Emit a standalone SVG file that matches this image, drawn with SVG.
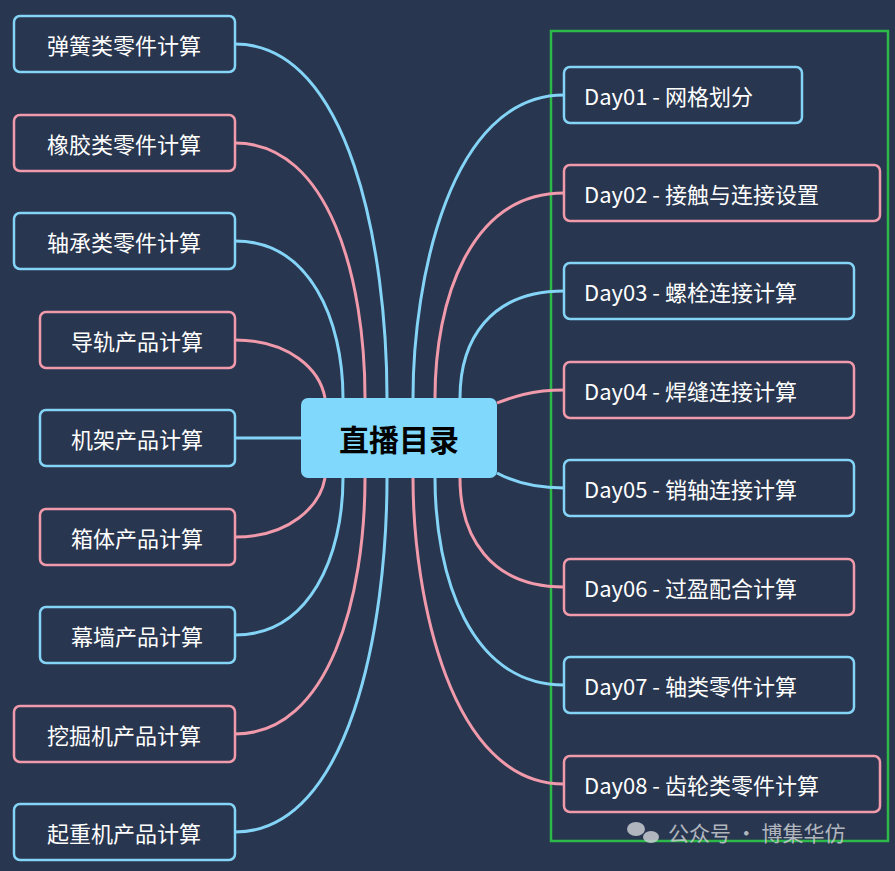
<svg xmlns="http://www.w3.org/2000/svg" width="895" height="871" viewBox="0 0 895 871">
<style>
.b{fill:#29364f;stroke:#84d4f7;stroke-width:2.5}
.p{fill:#29364f;stroke:#f09aab;stroke-width:2.5}
.t{fill:#ffffff;font-family:"Noto Sans CJK SC","Noto Sans",sans-serif;font-size:22px;dominant-baseline:central}
.cb{fill:none;stroke:#84d4f7;stroke-width:3}
.cp{fill:none;stroke:#f09aab;stroke-width:3}
</style>
<rect width="895" height="871" fill="#29364f"/>
<rect x="551" y="31" width="337" height="810" fill="none" stroke="#2db84a" stroke-width="2.5"/>
<g id="connectors">
<path class="cb" d="M235,44 C350,44 387,250 387,398"/>
<path class="cp" d="M235,143 C330,143 365,280 365,398"/>
<path class="cb" d="M235,241 C310,241 343,320 343,398"/>
<path class="cp" d="M235,340 C290,340 320,370 325,398"/>
<path class="cb" d="M235,438 L301,438"/>
<path class="cp" d="M235,537 C290,537 320,506 325,478"/>
<path class="cb" d="M235,635 C310,635 343,556 343,478"/>
<path class="cp" d="M235,734 C330,734 365,596 365,478"/>
<path class="cb" d="M235,832 C350,832 387,626 387,478"/>
<path class="cb" d="M564,95 C450,95 413,280 413,398"/>
<path class="cp" d="M564,193 C470,193 435,300 435,398"/>
<path class="cb" d="M564,291 C490,291 460,340 460,398"/>
<path class="cp" d="M564,390 C530,390 510,398 497,403"/>
<path class="cb" d="M564,488 C530,488 510,480 497,473"/>
<path class="cp" d="M564,587 C490,587 460,536 460,478"/>
<path class="cb" d="M564,685 C470,685 435,576 435,478"/>
<path class="cp" d="M564,784 C450,784 413,596 413,478"/>
</g>
<g id="center"><rect x="301" y="398" width="196" height="80" rx="7" fill="#80d9fc"/>
<text x="399" y="438" text-anchor="middle" style="font-family:'Noto Sans CJK SC',sans-serif;font-size:30px;font-weight:bold;fill:#000;dominant-baseline:central">直播目录</text></g>
<g id="l1"><rect class="b" x="14" y="16" width="221" height="56" rx="6"/><text class="t" x="124" y="44" text-anchor="middle">弹簧类零件计算</text></g>
<g id="l2"><rect class="p" x="14" y="115" width="221" height="56" rx="6"/><text class="t" x="124" y="143" text-anchor="middle">橡胶类零件计算</text></g>
<g id="l3"><rect class="b" x="14" y="213" width="221" height="56" rx="6"/><text class="t" x="124" y="241" text-anchor="middle">轴承类零件计算</text></g>
<g id="l4"><rect class="p" x="40" y="312" width="195" height="56" rx="6"/><text class="t" x="137" y="340" text-anchor="middle">导轨产品计算</text></g>
<g id="l5"><rect class="b" x="40" y="410" width="195" height="56" rx="6"/><text class="t" x="137" y="438" text-anchor="middle">机架产品计算</text></g>
<g id="l6"><rect class="p" x="40" y="509" width="195" height="56" rx="6"/><text class="t" x="137" y="537" text-anchor="middle">箱体产品计算</text></g>
<g id="l7"><rect class="b" x="40" y="607" width="195" height="56" rx="6"/><text class="t" x="137" y="635" text-anchor="middle">幕墙产品计算</text></g>
<g id="l8"><rect class="p" x="14" y="706" width="221" height="56" rx="6"/><text class="t" x="124" y="734" text-anchor="middle">挖掘机产品计算</text></g>
<g id="l9"><rect class="b" x="14" y="804" width="221" height="56" rx="6"/><text class="t" x="124" y="832" text-anchor="middle">起重机产品计算</text></g>
<g id="r1"><rect class="b" x="564" y="67" width="238" height="56" rx="6"/><text class="t" x="584" y="95">Day01 - 网格划分</text></g>
<g id="r2"><rect class="p" x="564" y="165" width="316" height="56" rx="6"/><text class="t" x="584" y="193">Day02 - 接触与连接设置</text></g>
<g id="r3"><rect class="b" x="564" y="263" width="290" height="56" rx="6"/><text class="t" x="584" y="291">Day03 - 螺栓连接计算</text></g>
<g id="r4"><rect class="p" x="564" y="362" width="290" height="56" rx="6"/><text class="t" x="584" y="390">Day04 - 焊缝连接计算</text></g>
<g id="r5"><rect class="b" x="564" y="460" width="290" height="56" rx="6"/><text class="t" x="584" y="488">Day05 - 销轴连接计算</text></g>
<g id="r6"><rect class="p" x="564" y="559" width="290" height="56" rx="6"/><text class="t" x="584" y="587">Day06 - 过盈配合计算</text></g>
<g id="r7"><rect class="b" x="564" y="657" width="290" height="56" rx="6"/><text class="t" x="584" y="685">Day07 - 轴类零件计算</text></g>
<g id="r8"><rect class="p" x="564" y="756" width="316" height="56" rx="6"/><text class="t" x="584" y="784">Day08 - 齿轮类零件计算</text></g>
<g id="watermark" fill="#c8ccd2" opacity="0.85">
<ellipse cx="636" cy="829" rx="9" ry="7"/><ellipse cx="651" cy="837" rx="8" ry="6"/>
<text x="668" y="832" style="font-family:'Noto Sans CJK SC',sans-serif;font-size:21px;dominant-baseline:central">公众号 · 博集华仿</text></g>
</svg>
